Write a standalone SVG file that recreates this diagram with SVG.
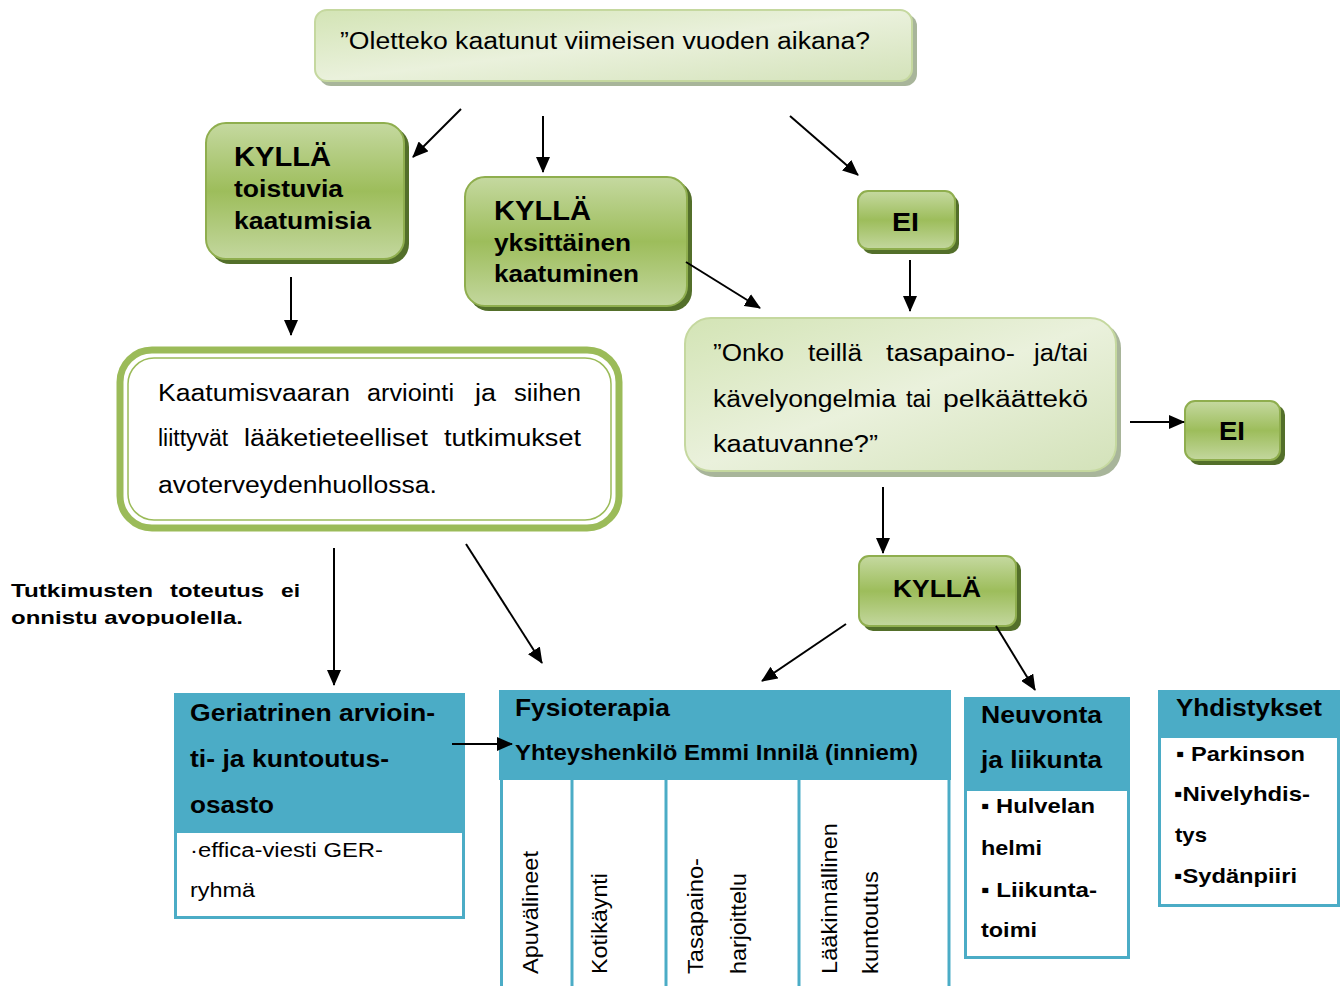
<svg xmlns="http://www.w3.org/2000/svg" width="1341" height="986" viewBox="0 0 1341 986">
<defs>
<linearGradient id="gLight" x1="0" y1="0" x2="1" y2="1">
<stop offset="0" stop-color="#d3e4b5"/>
<stop offset="0.5" stop-color="#eaf1dc"/>
<stop offset="1" stop-color="#d3e2b9"/>
</linearGradient>
<linearGradient id="gMid" x1="0" y1="0" x2="0" y2="1">
<stop offset="0" stop-color="#c5d9a0"/>
<stop offset="0.5" stop-color="#9dbd5b"/>
<stop offset="1" stop-color="#c3d79e"/>
</linearGradient>
<clipPath id="clipQ2"><rect x="690" y="320" width="420" height="133"/></clipPath>
<clipPath id="clipNote"><rect x="0" y="570" width="320" height="56"/></clipPath>
<marker id="ah" markerUnits="userSpaceOnUse" markerWidth="16" markerHeight="14" refX="15" refY="7" orient="auto">
<path d="M0,0 L16,7 L0,14 Z" fill="#000"/>
</marker>
<style>
text{font-family:"Liberation Sans",Arial,sans-serif;fill:#000}
.b{font-weight:bold}
.q{font-size:23px}
.gShadow{fill:#536f2a}
.gBox{fill:url(#gMid);stroke:#8fae4e;stroke-width:2}
.lShadow{fill:#a8b59a}
.lBox{fill:url(#gLight);stroke:#c5d89f;stroke-width:2}
.hdr{fill:#4bacc6}
.cell{fill:#fff;stroke:#4bacc6;stroke-width:3}
.conn{stroke:#000;stroke-width:2;fill:none;marker-end:url(#ah)}
.big{font-size:27px}
.mid{font-size:23px}
.sm{font-size:20px}
.vt{font-size:22px}
</style>
</defs>

<g id="q1">
<rect x="319" y="14" width="598" height="72" rx="12" class="lShadow"/>
<rect x="315" y="10" width="597" height="71" rx="12" class="lBox"/>
<text x="340" y="49" class="q" textLength="530" lengthAdjust="spacingAndGlyphs">”Oletteko kaatunut viimeisen vuoden aikana?</text>
</g>

<g id="kylla1">
<rect x="210" y="127" width="199" height="137" rx="20" class="gShadow"/>
<rect x="206" y="123" width="198" height="136" rx="20" class="gBox"/>
<text x="234" y="166" class="b big" textLength="97" lengthAdjust="spacingAndGlyphs">KYLLÄ</text>
<text x="234" y="197" class="b mid" textLength="109" lengthAdjust="spacingAndGlyphs">toistuvia</text>
<text x="234" y="229" class="b mid" textLength="137" lengthAdjust="spacingAndGlyphs">kaatumisia</text>
</g>

<g id="kylla2">
<rect x="469" y="181" width="223" height="130" rx="20" class="gShadow"/>
<rect x="465" y="177" width="222" height="129" rx="20" class="gBox"/>
<text x="494" y="220" class="b big" textLength="97" lengthAdjust="spacingAndGlyphs">KYLLÄ</text>
<text x="494" y="251" class="b mid" textLength="137" lengthAdjust="spacingAndGlyphs">yksittäinen</text>
<text x="494" y="282" class="b mid" textLength="145" lengthAdjust="spacingAndGlyphs">kaatuminen</text>
</g>

<g id="ei1">
<rect x="862" y="195" width="97" height="59" rx="10" class="gShadow"/>
<rect x="858" y="191" width="97" height="58" rx="10" class="gBox"/>
<text x="892" y="231" class="b" font-size="25" textLength="27" lengthAdjust="spacingAndGlyphs">EI</text>
</g>

<g id="q2">
<rect x="689" y="322" width="432" height="155" rx="26" class="lShadow"/>
<rect x="685" y="318" width="431" height="153" rx="26" class="lBox"/>
<g clip-path="url(#clipQ2)">
<text class="q" x="713" y="361" textLength="71" lengthAdjust="spacingAndGlyphs">”Onko</text>
<text class="q" x="808" y="361" textLength="54" lengthAdjust="spacingAndGlyphs">teillä</text>
<text class="q" x="886" y="361" textLength="129" lengthAdjust="spacingAndGlyphs">tasapaino-</text>
<text class="q" x="1034" y="361" textLength="54" lengthAdjust="spacingAndGlyphs">ja/tai</text>
<text class="q" x="713" y="407" textLength="183" lengthAdjust="spacingAndGlyphs">kävelyongelmia</text>
<text class="q" x="906" y="407" textLength="25" lengthAdjust="spacingAndGlyphs">tai</text>
<text class="q" x="943" y="407" textLength="145" lengthAdjust="spacingAndGlyphs">pelkäättekö</text>
<text class="q" x="713" y="452" textLength="165" lengthAdjust="spacingAndGlyphs">kaatuvanne?”</text>
</g>
</g>

<g id="ei2">
<rect x="1189" y="405" width="96" height="60" rx="10" class="gShadow"/>
<rect x="1185" y="401" width="95" height="59" rx="10" class="gBox"/>
<text x="1219" y="440" class="b" font-size="25" textLength="26" lengthAdjust="spacingAndGlyphs">EI</text>
</g>

<g id="kylla3">
<rect x="863" y="560" width="158" height="71" rx="10" class="gShadow"/>
<rect x="859" y="556" width="157" height="70" rx="10" class="gBox"/>
<text x="893" y="597" class="b" font-size="23" textLength="88" lengthAdjust="spacingAndGlyphs">KYLLÄ</text>
</g>

<g id="arviointi">
<rect x="120" y="350" width="499" height="178" rx="32" fill="#fff" stroke="#9bbb59" stroke-width="7"/>
<rect x="128" y="358" width="483" height="162" rx="26" fill="none" stroke="#9bbb59" stroke-width="1.5"/>
<text class="q" x="158" y="401" textLength="192" lengthAdjust="spacingAndGlyphs">Kaatumisvaaran</text>
<text class="q" x="367" y="401" textLength="87" lengthAdjust="spacingAndGlyphs">arviointi</text>
<text class="q" x="475" y="401" textLength="21" lengthAdjust="spacingAndGlyphs">ja</text>
<text class="q" x="514" y="401" textLength="67" lengthAdjust="spacingAndGlyphs">siihen</text>
<text class="q" x="158" y="446" textLength="70" lengthAdjust="spacingAndGlyphs">liittyvät</text>
<text class="q" x="244" y="446" textLength="184" lengthAdjust="spacingAndGlyphs">lääketieteelliset</text>
<text class="q" x="444" y="446" textLength="137" lengthAdjust="spacingAndGlyphs">tutkimukset</text>
<text class="q" x="158" y="493" textLength="279" lengthAdjust="spacingAndGlyphs">avoterveydenhuollossa.</text>
</g>

<g id="note" clip-path="url(#clipNote)">
<text class="b" font-size="19" x="11" y="597" textLength="142" lengthAdjust="spacingAndGlyphs">Tutkimusten</text>
<text class="b" font-size="19" x="170" y="597" textLength="94" lengthAdjust="spacingAndGlyphs">toteutus</text>
<text class="b" font-size="19" x="281" y="597" textLength="19" lengthAdjust="spacingAndGlyphs">ei</text>
<text class="b" font-size="19" x="11" y="624" textLength="232" lengthAdjust="spacingAndGlyphs">onnistu avopuolella.</text>
</g>

<g id="geriatrinen">
<rect x="175.5" y="694.5" width="288" height="223" class="cell"/>
<rect x="174" y="693" width="291" height="140" class="hdr"/>
<text class="b mid" x="190" y="721" textLength="245" lengthAdjust="spacingAndGlyphs">Geriatrinen arvioin-</text>
<text class="b mid" x="190" y="767" textLength="199" lengthAdjust="spacingAndGlyphs">ti- ja kuntoutus-</text>
<text class="b mid" x="190" y="813" textLength="84" lengthAdjust="spacingAndGlyphs">osasto</text>
<text class="sm" x="190" y="857" textLength="193" lengthAdjust="spacingAndGlyphs">·effica-viesti GER-</text>
<text class="sm" x="190" y="897" textLength="65" lengthAdjust="spacingAndGlyphs">ryhmä</text>
</g>

<g id="fysioterapia">
<rect x="499" y="690" width="452" height="90" class="hdr"/>
<g stroke="#4bacc6" stroke-width="3">
<line x1="501.5" y1="779" x2="501.5" y2="986"/>
<line x1="572" y1="779" x2="572" y2="986"/>
<line x1="666" y1="779" x2="666" y2="986"/>
<line x1="799" y1="779" x2="799" y2="986"/>
<line x1="949" y1="779" x2="949" y2="986"/>
</g>
<text class="b" font-size="24" x="515" y="716" textLength="155" lengthAdjust="spacingAndGlyphs">Fysioterapia</text>
<text class="b" font-size="22" x="515" y="760" textLength="403" lengthAdjust="spacingAndGlyphs">Yhteyshenkilö Emmi Innilä (inniem)</text>
<text class="vt" transform="translate(538,974) rotate(-90)" textLength="123" lengthAdjust="spacingAndGlyphs">Apuvälineet</text>
<text class="vt" transform="translate(607,974) rotate(-90)" textLength="101" lengthAdjust="spacingAndGlyphs">Kotikäynti</text>
<text class="vt" transform="translate(703,974) rotate(-90)" textLength="116" lengthAdjust="spacingAndGlyphs">Tasapaino-</text>
<text class="vt" transform="translate(746,974) rotate(-90)" textLength="101" lengthAdjust="spacingAndGlyphs">harjoittelu</text>
<text class="vt" transform="translate(837,974) rotate(-90)" textLength="151" lengthAdjust="spacingAndGlyphs">Lääkinnällinen</text>
<text class="vt" transform="translate(878,974) rotate(-90)" textLength="103" lengthAdjust="spacingAndGlyphs">kuntoutus</text>
</g>

<g id="neuvonta">
<rect x="965.5" y="698.5" width="163" height="259" class="cell"/>
<rect x="964" y="697" width="166" height="94" class="hdr"/>
<text class="b mid" x="981" y="723" textLength="121" lengthAdjust="spacingAndGlyphs">Neuvonta</text>
<text class="b mid" x="981" y="768" textLength="121" lengthAdjust="spacingAndGlyphs">ja liikunta</text>
<text class="b" font-size="21" x="981" y="813" textLength="114" lengthAdjust="spacingAndGlyphs">▪ Hulvelan</text>
<text class="b" font-size="21" x="981" y="855" textLength="61" lengthAdjust="spacingAndGlyphs">helmi</text>
<text class="b" font-size="21" x="981" y="897" textLength="116" lengthAdjust="spacingAndGlyphs">▪ Liikunta-</text>
<text class="b" font-size="21" x="981" y="937" textLength="56" lengthAdjust="spacingAndGlyphs">toimi</text>
</g>

<g id="yhdistykset">
<rect x="1159.5" y="691.5" width="179" height="214" class="cell"/>
<rect x="1158" y="690" width="182" height="48" class="hdr"/>
<text class="b mid" x="1176" y="716" textLength="146" lengthAdjust="spacingAndGlyphs">Yhdistykset</text>
<text class="b" font-size="21" x="1176" y="761" textLength="129" lengthAdjust="spacingAndGlyphs">▪ Parkinson</text>
<text class="b" font-size="21" x="1174" y="801" textLength="136" lengthAdjust="spacingAndGlyphs">▪Nivelyhdis-</text>
<text class="b" font-size="21" x="1175" y="842" textLength="32" lengthAdjust="spacingAndGlyphs">tys</text>
<text class="b" font-size="21" x="1174" y="883" textLength="123" lengthAdjust="spacingAndGlyphs">▪Sydänpiiri</text>
</g>

<g id="connectors">
<line class="conn" x1="461" y1="109" x2="413" y2="157"/>
<line class="conn" x1="543" y1="116" x2="543" y2="172"/>
<line class="conn" x1="790" y1="116" x2="858" y2="175"/>
<line class="conn" x1="910" y1="260" x2="910" y2="311"/>
<line class="conn" x1="686" y1="262" x2="760" y2="308"/>
<line class="conn" x1="291" y1="277" x2="291" y2="335"/>
<line class="conn" x1="1130" y1="422" x2="1184" y2="422"/>
<line class="conn" x1="883" y1="487" x2="883" y2="553"/>
<line class="conn" x1="846" y1="624" x2="762" y2="681"/>
<line class="conn" x1="996" y1="626" x2="1035" y2="690"/>
<line class="conn" x1="334" y1="548" x2="334" y2="685"/>
<line class="conn" x1="466" y1="544" x2="542" y2="663"/>
<line class="conn" x1="452" y1="744" x2="512" y2="744"/>
</g>
</svg>
